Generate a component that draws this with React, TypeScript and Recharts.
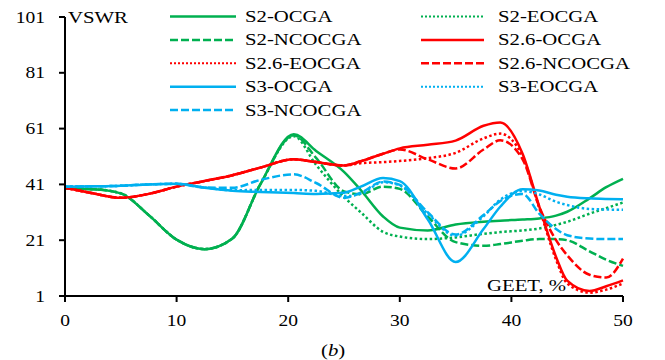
import React from 'react';
import { LineChart, Line, XAxis, YAxis } from 'recharts';

// GEET, % sample positions
const geet = [0, 2.5, 5, 7.5, 10, 12.5, 15, 17.5, 20.5, 22.5, 25, 26.5, 28.5, 30, 32.5, 35, 37.5, 39, 41, 42.5, 44, 45, 47, 48.5, 50];

// VSWR values
const s2Ocga = [39.5, 39.3, 37.8, 30, 21.2, 17.8, 21.6, 41, 59, 53, 45.5, 39, 29.5, 25.5, 24.5, 26.6, 27.6, 28, 28.4, 28.8, 29.8, 31.2, 36, 40, 43];
const s2Eocga = [39.5, 39.3, 37.8, 30, 21.2, 17.8, 21.6, 41, 58.3, 48, 36.5, 31, 24, 22.3, 21.4, 22, 23.3, 23.9, 24.5, 25.2, 26.5, 27.6, 30.5, 32.5, 34.5];
const s2Ncocga = [39.5, 39.3, 37.8, 30, 21.2, 17.8, 21.6, 41, 58.6, 50.5, 38.5, 37.5, 40.2, 39.4, 29.5, 20.3, 19, 19.6, 20.8, 21.4, 21.4, 21, 17, 14, 11.8];
const s26Ocga = [39.8, 37.8, 36.2, 37.6, 40.2, 42.2, 44.3, 47, 50, 49, 47.8, 49.3, 52, 53.9, 55.2, 56.7, 62, 63.2, 52, 33, 15, 6.5, 2.8, 4.5, 6.6];
const s26Eocga = [39.8, 37.8, 36.2, 37.6, 40.2, 42.2, 44.3, 47, 50, 49, 47.8, 48.6, 49, 49.4, 50.4, 52.3, 57.5, 59.2, 51, 32.5, 14, 5.5, 2.2, 3.3, 5.5];
const s26Ncocga = [39.8, 37.8, 36.2, 37.6, 40.2, 42.2, 44.3, 47, 50, 49, 47.8, 49.3, 52, 53.5, 50, 46.7, 53.5, 56.8, 50, 33, 21, 15.6, 8.6, 7.6, 14.4];
const s3Ocga = [40.2, 40.3, 40.5, 41, 41.2, 39.8, 38.7, 38.3, 37.9, 37.6, 38, 40.2, 43.3, 42.2, 28.5, 13.2, 25, 33, 39.3, 38.8, 37.3, 36.6, 36, 35.8, 35.7];
const s3Eocga = [40.2, 40.3, 40.5, 41, 41.2, 39.9, 38.9, 39, 39, 38.7, 36.8, 37.6, 41.8, 40.6, 30.5, 22.6, 29.6, 35.5, 38.6, 37.4, 34.8, 33.6, 32.2, 32, 31.9];
const s3Ncocga = [40.2, 40.3, 40.5, 41, 41.2, 39.9, 39.8, 42.6, 44.6, 41.5, 36.2, 38, 42, 40.8, 31, 23, 30, 35, 37.6, 30.5, 25, 22.8, 21.6, 21.4, 21.4];

const xTicks = [0, 10, 20, 30, 40, 50];
const yTicks = [1, 21, 41, 61, 81, 101];

const GREEN = '#00B050';
const RED = '#FF0000';
const BLUE = '#00B0F0';
const DASH = '8 3';
const DOT = '2.5 2.5';

const series = [
  { key: 's2Ocga', name: 'S2-OCGA', values: s2Ocga, color: GREEN, dash: undefined },
  { key: 's2Eocga', name: 'S2-EOCGA', values: s2Eocga, color: GREEN, dash: DOT },
  { key: 's2Ncocga', name: 'S2-NCOCGA', values: s2Ncocga, color: GREEN, dash: DASH },
  { key: 's26Ocga', name: 'S2.6-OCGA', values: s26Ocga, color: RED, dash: undefined },
  { key: 's26Eocga', name: 'S2.6-EOCGA', values: s26Eocga, color: RED, dash: DOT },
  { key: 's26Ncocga', name: 'S2.6-NCOCGA', values: s26Ncocga, color: RED, dash: DASH },
  { key: 's3Ocga', name: 'S3-OCGA', values: s3Ocga, color: BLUE, dash: undefined },
  { key: 's3Eocga', name: 'S3-EOCGA', values: s3Eocga, color: BLUE, dash: DOT },
  { key: 's3Ncocga', name: 'S3-NCOCGA', values: s3Ncocga, color: BLUE, dash: DASH },
];

const data = geet.map((x, i) => {
  const row: Record<string, number> = { x };
  series.forEach((s) => {
    row[s.key] = s.values[i];
  });
  return row;
});

const FONT = '"Liberation Serif", "Times New Roman", serif';
const SX = 1.22;

const XTick = (props: any) => {
  const { x, y, payload } = props;
  return (
    <g transform={`translate(${x},${y}) scale(${SX},1)`}>
      <text x={0} y={0} dy="0.75em" textAnchor="middle" fontFamily={FONT} fontSize={16} fill="#000">
        {payload.value}
      </text>
    </g>
  );
};

const YTick = (props: any) => {
  const { x, y, payload } = props;
  return (
    <g transform={`translate(${x},${y}) scale(${SX},1)`}>
      <text x={0} y={0} dy="0.35em" textAnchor="end" fontFamily={FONT} fontSize={16} fill="#000">
        {payload.value}
      </text>
    </g>
  );
};

const textStyle: React.CSSProperties = {
  position: 'absolute',
  fontFamily: FONT,
  fontSize: 17,
  lineHeight: '17px',
  whiteSpace: 'nowrap',
  color: '#000',
  transform: `scaleX(${SX})`,
  transformOrigin: 'left center',
};

const legendCols = [
  { lineX1: 170, lineX2: 236, textX: 245 },
  { lineX1: 421, lineX2: 484, textX: 498 },
];
const legendRowY0 = 16.5;
const legendRowStep = 23.4;

export default function App() {
  return (
    <div style={{ position: 'absolute', left: 0, top: 0, width: 665, height: 360, background: '#fff' }}>
      <LineChart
        width={665}
        height={360}
        data={data}
        margin={{ top: 17, right: 42, bottom: 34, left: 5 }}
      >
        <XAxis
          dataKey="x"
          type="number"
          domain={[0, 50]}
          ticks={xTicks}
          interval={0}
          height={30}
          axisLine={{ stroke: '#000', strokeWidth: 2 }}
          tickLine={{ stroke: '#000', strokeWidth: 2 }}
          tickSize={6}
          tickMargin={12}
          tick={<XTick />}
        />
        <YAxis
          type="number"
          domain={[1, 101]}
          ticks={yTicks}
          interval={0}
          width={60}
          axisLine={{ stroke: '#000', strokeWidth: 2 }}
          tickLine={{ stroke: '#000', strokeWidth: 2 }}
          tickSize={6}
          tickMargin={14}
          tick={<YTick />}
        />
        {series.map((s) => (
          <Line
            key={s.key}
            dataKey={s.key}
            name={s.name}
            type="monotone"
            stroke={s.color}
            strokeWidth={2.5}
            strokeDasharray={s.dash}
            dot={false}
            activeDot={false}
            isAnimationActive={false}
          />
        ))}
      </LineChart>

      {series.map((s, i) => {
        const col = legendCols[i % 2];
        const y = legendRowY0 + Math.floor(i / 2) * legendRowStep;
        return (
          <React.Fragment key={s.key}>
            <svg
              style={{ position: 'absolute', left: 0, top: 0, overflow: 'visible', pointerEvents: 'none' }}
              width={1}
              height={1}
            >
              <line
                x1={col.lineX1}
                x2={col.lineX2}
                y1={y}
                y2={y}
                stroke={s.color}
                strokeWidth={s.dash === DOT ? 2 : 2.5}
                strokeDasharray={s.dash === DOT ? '2 2' : s.dash}
              />
            </svg>
            <div style={{ ...textStyle, left: col.textX, top: y - 8.6 }}>{s.name}</div>
          </React.Fragment>
        );
      })}

      <div style={{ ...textStyle, left: 68, top: 17.5 - 8.6 }}>VSWR</div>
      <div style={{ ...textStyle, left: 487, top: 286 - 8.6 }}>GEET, %</div>
      <div style={{ ...textStyle, left: 321, top: 351 - 8.6 }}>
        (<i>b</i>)
      </div>
    </div>
  );
}
